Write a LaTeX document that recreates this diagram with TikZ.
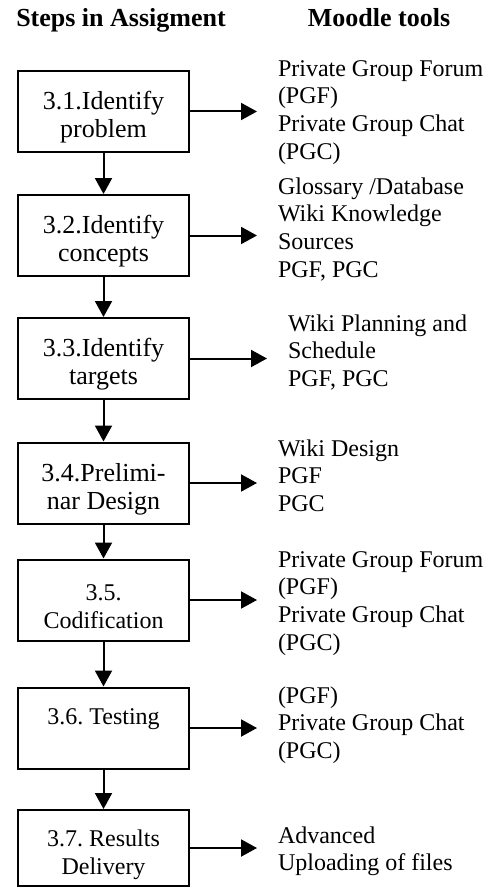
\documentclass[tikz,border=0pt]{standalone}
\usepackage{fontspec}
\setmainfont{Liberation Serif}
\usepackage{tikz}
\usetikzlibrary{positioning,calc,arrows.meta}
\frenchspacing
\newcommand{\stepstrut}{\rule{0pt}{15pt}}

\begin{document}
\begin{tikzpicture}[x=0.5pt, y=-0.5pt, line width=1pt,
    stepbox/.style={draw, minimum width=85.5pt, minimum height=40.5pt, align=center, inner sep=0pt,
        font=\fontsize{13}{14}\selectfont},
    smallstep/.style={stepbox, font=\fontsize{12}{14}\selectfont},
    tooltext/.style={anchor=north west, align=left, inner sep=0pt, font=\fontsize{12}{13.8}\selectfont},
    heading/.style={anchor=base, font=\fontsize{13}{15}\selectfont\bfseries},
    flow/.style={-{Triangle[length=8pt,width=8.5pt]}},
    toolarrow/.style={flow, shorten >=10pt}]
    \useasboundingbox (0,0) rectangle (491,888);

    % column titles
    \node[heading] at (121,27) (HeadSteps) {Steps in Assigment};
    \node[heading] at (379,27) (HeadTools) {Moodle tools};

    % steps of the assignment
    \node[stepbox] at (103.5,111.5) (StepOne) {\stepstrut 3.1.Identify\\problem};
    \node[stepbox] at (103.5,235.5) (StepTwo) {\stepstrut 3.2.Identify\\concepts};
    \node[stepbox] at (103.5,358.5) (StepThree) {\stepstrut 3.3.Identify\\targets};
    \node[stepbox] at (103.5,483) (StepFour) {\stepstrut 3.4.Prelimi-\\nar Design};
    \node[smallstep] at (103.5,600) (StepFive) {\stepstrut 3.5.\\Codification};
    \node[smallstep] at (103.5,728) (StepSix) {\stepstrut 3.6. Testing\\\strut};
    \node[smallstep, minimum height=38pt] at (103.5,848) (StepSeven) {\stepstrut 3.7. Results\\Delivery};

    % moodle tools for each step
    \node[tooltext] at (277,56) (ToolsOne) {\strut Private Group Forum\\(PGF)\\Private Group Chat\\(PGC)};
    \node[tooltext] at (277,174) (ToolsTwo) {\strut Glossary /Database\\Wiki Knowledge\\Sources\\PGF, PGC};
    \node[tooltext] at (287,311) (ToolsThree) {\strut Wiki Planning and\\Schedule\\PGF, PGC};
    \node[tooltext] at (277,436) (ToolsFour) {\strut Wiki Design\\PGF\\PGC};
    \node[tooltext] at (277,547) (ToolsFive) {\strut Private Group Forum\\(PGF)\\Private Group Chat\\(PGC)};
    \node[tooltext] at (277,683) (ToolsSix) {\strut (PGF)\\Private Group Chat\\(PGC)};
    \node[tooltext] at (277,823) (ToolsSeven) {\strut Advanced\\Uploading of files};

    % flow between steps
    \draw[flow] (StepOne) -- (StepTwo);
    \draw[flow] (StepTwo) -- (StepThree);
    \draw[flow] (StepThree) -- (StepFour);
    \draw[flow] (StepFour) -- (StepFive);
    \draw[flow] (StepFive) -- (StepSix);
    \draw[flow] (StepSix) -- (StepSeven);

    % step to tools
    \draw[toolarrow] (StepOne.east) -- (StepOne.east -| ToolsOne.west);
    \draw[toolarrow] (StepTwo.east) -- (StepTwo.east -| ToolsTwo.west);
    \draw[toolarrow] (StepThree.east) -- (StepThree.east -| ToolsThree.west);
    \draw[toolarrow] (StepFour.east) -- (StepFour.east -| ToolsFour.west);
    \draw[toolarrow] (StepFive.east) -- (StepFive.east -| ToolsFive.west);
    \draw[toolarrow] (StepSix.east) -- (StepSix.east -| ToolsSix.west);
    \draw[toolarrow] (StepSeven.east) -- (StepSeven.east -| ToolsSeven.west);
\end{tikzpicture}
\end{document}
